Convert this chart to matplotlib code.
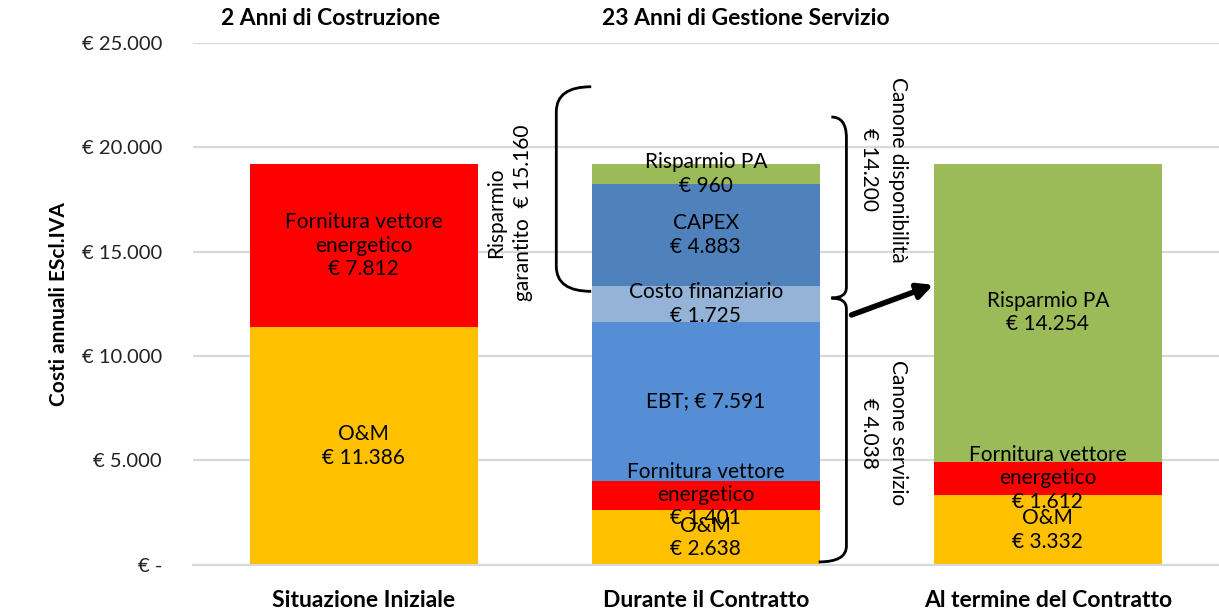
import numpy as np
import matplotlib.pyplot as plt
from matplotlib.path import Path
from matplotlib.patches import PathPatch
from matplotlib.ticker import FuncFormatter

plt.rcParams['font.family'] = ['Lato', 'DejaVu Sans']

# dati
categorie = ['Situazione Iniziale', 'Durante il Contratto', 'Al termine del Contratto']
voci = ['O&M', 'Fornitura vettore energetico', 'EBT', 'Costo finanziario', 'CAPEX', 'Risparmio PA']
om = [11386, 2638, 3332]
fornitura = [7812, 1401, 1612]
ebt = [0, 7591, 0]
costo_fin = [0, 1725, 0]
capex = [0, 4883, 0]
risparmio = [0, 960, 14254]
colori = ['#FFC000', '#FF0000', '#558ED5', '#95B3D7', '#4F81BD', '#9BBB59']

etichette = {
    'O&M': 'O&M\n€ {}',
    'Fornitura vettore energetico': 'Fornitura vettore\nenergetico\n€ {}',
    'EBT': 'EBT; € {}',
    'Costo finanziario': 'Costo finanziario\n€ {}',
    'CAPEX': 'CAPEX\n€ {}',
    'Risparmio PA': 'Risparmio PA\n€ {}',
}


def euro(v):
    return '{:,.0f}'.format(v).replace(',', '.')


fig = plt.figure(figsize=(12.19, 6.10), dpi=100)
ax = fig.add_axes([0.158, 0.074, 0.842, 0.8557])

x = np.arange(len(categorie))
serie = [om, fornitura, ebt, costo_fin, capex, risparmio]
base = np.zeros(len(categorie))
for nome, vals, col in zip(voci, serie, colori):
    vals = np.array(vals, dtype=float)
    ax.bar(x, vals, width=0.667, bottom=base, color=col, zorder=2)
    for i in range(len(x)):
        if vals[i] > 0:
            ax.text(x[i], base[i] + vals[i] / 2, etichette[nome].format(euro(vals[i])),
                    ha='center', va='center', fontsize=15, linespacing=1.2,
                    color='#000000', zorder=4)
    base = base + vals

ax.set_xlim(-0.5, 2.5)
ax.set_ylim(0, 25000)
ax.set_yticks(np.arange(0, 25001, 5000))
ax.yaxis.set_major_formatter(FuncFormatter(lambda v, p: '€ -' if v == 0 else '€ ' + euro(v)))
ax.grid(axis='y', color='#D9D9D9', lw=1.6, zorder=0)
for s in ['top', 'right', 'left']:
    ax.spines[s].set_visible(False)
ax.spines['bottom'].set_color('#D9D9D9')
ax.spines['bottom'].set_linewidth(1.6)
ax.tick_params(axis='y', length=0, pad=22, labelsize=14.5, labelcolor='#222222')
ax.tick_params(axis='x', length=0, pad=18)
ax.set_xticks(x)
ax.set_xticklabels(categorie, fontsize=16.5, fontweight='bold')
ax.set_ylabel('Costi annuali EScl.IVA', fontsize=15, fontweight='bold', labelpad=9)

# intestazioni
ax.text(-0.096, 26150, '2 Anni di Costruzione', ha='center', va='center',
        fontsize=16.5, fontweight='bold', clip_on=False)
ax.text(1.116, 26150, '23 Anni di Gestione Servizio', ha='center', va='center',
        fontsize=16.5, fontweight='bold', clip_on=False)

# parentesi
def parentesi(punti, codici):
    ax.add_patch(PathPatch(Path(punti, codici), fill=False, lw=2, color='black',
                           zorder=5, clip_on=False))

C3 = Path.CURVE3
M, L = Path.MOVETO, Path.LINETO

# parentesi sinistra (risparmio garantito)
xl, xe = 0.563, 0.665
parentesi([(xe, 22900), (xl, 22900), (xl, 21700), (xl, 14300), (xl, 13100), (xe, 13100)],
          [M, C3, C3, L, C3, C3])

# parentesi destra (canoni)
xr, xc = 1.411, 1.367
parentesi([(xc, 21450), (xr, 21450), (xr, 20450),
           (xr, 13300), (xr, 12780), (xc, 12780),
           (xr, 12780), (xr, 12260),
           (xr, 900), (xr, 140), (1.33, 140)],
          [M, C3, C3, L, C3, C3, C3, C3, L, C3, C3])

ax.text(0.426, 16860, 'Risparmio\ngarantito  € 15.160', rotation=90, ha='center',
        va='center', fontsize=15, linespacing=1.45)
ax.text(1.52, 18920, 'Canone disponibilità\n€ 14.200', rotation=270, ha='center',
        va='center', fontsize=15, linespacing=1.55)
ax.text(1.52, 6320, 'Canone servizio\n€ 4.038', rotation=270, ha='center',
        va='center', fontsize=15, linespacing=1.55)

ax.annotate('', xy=(1.665, 13410), xytext=(1.426, 11970),
            arrowprops=dict(arrowstyle='-|>,head_length=0.9,head_width=0.45',
                            lw=4, color='black', shrinkA=0, shrinkB=0), zorder=6)

fig.savefig('out.png', dpi=100)
